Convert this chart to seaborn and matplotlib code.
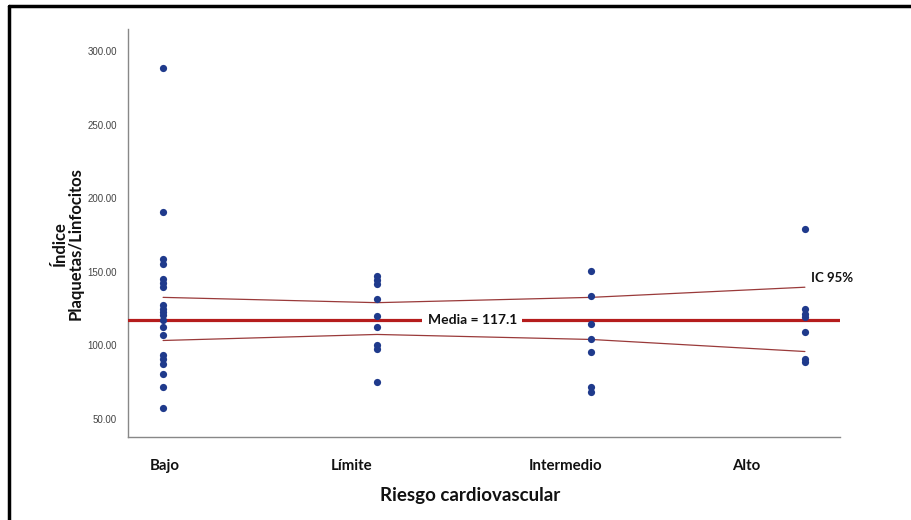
import matplotlib
matplotlib.use("Agg")
import matplotlib.pyplot as plt
import seaborn as sns
import pandas as pd
from matplotlib.lines import Line2D

categories = ["Bajo", "Límite", "Intermedio", "Alto"]
bajo = [288.4, 190.5, 158.6, 155.0, 145.1, 142.7, 139.7, 127.2, 124.9, 122.6, 120.4, 117.5,
        112.8, 106.7, 93.7, 90.8, 87.4, 80.5, 71.4, 57.7]
limite = [147.0, 144.7, 142.0, 131.8, 119.7, 112.8, 100.1, 97.6, 74.8]
intermedio = [150.6, 133.8, 114.2, 104.6, 95.3, 71.9, 68.0]
alto = [178.9, 124.9, 121.5, 119.2, 109.4, 90.8, 88.5]
mean_value = 117.1
ci_upper = [132.6, 129.0, 132.6, 139.5]
ci_lower = [103.3, 107.4, 104.0, 95.8]
yticks = [50, 100, 150, 200, 250, 300]

rows = []
for cat, vals in zip(categories, [bajo, limite, intermedio, alto]):
    for v in vals:
        rows.append({"Riesgo": cat, "IPL": v})
df = pd.DataFrame(rows)

sns.set_theme(style="white")
plt.rcParams["font.family"] = ["Lato", "DejaVu Sans"]

fig = plt.figure(figsize=(9.12, 5.2), dpi=100)
ax = fig.add_axes([128/912, 1-437/520, (840-128)/912, (437-29)/520])

sns.stripplot(data=df, x="Riesgo", y="IPL", order=categories, jitter=False,
              color="#1F3A8C", size=5.2, linewidth=0, ax=ax, zorder=4)

ax.axhline(mean_value, color="#B51C1C", lw=2.3, zorder=3)
ax.plot(range(len(categories)), ci_upper, color="#9A3A3A", lw=0.9, zorder=2)
ax.plot(range(len(categories)), ci_lower, color="#9A3A3A", lw=0.9, zorder=2)

ax.text(1.445, mean_value, f"Media = {mean_value}", ha="center", va="center",
        fontsize=10, fontweight="bold", color="#111111", zorder=5,
        bbox=dict(facecolor="white", edgecolor="none", pad=4))
ax.text(3.03, 141.5, "IC 95%", ha="left", va="bottom", fontsize=9.5,
        fontweight="bold", color="#111111")

ax.set_xlim(-0.164, 3.164)
ax.set_ylim(37.7, 315)
ax.set_yticks(yticks)
ax.set_yticklabels([f"{t:.2f}" for t in yticks], fontsize=7, color="#444444",
                   family=["Liberation Sans", "DejaVu Sans"])
# category labels as placed in the original (offset from the point columns)
ax.set_xticks([0.01, 0.883, 1.879, 2.724])
ax.set_xticklabels(categories, fontsize=10.8, fontweight="bold", color="#111111")
ax.tick_params(axis="x", pad=16, length=0)
ax.tick_params(axis="y", length=0, pad=8)

ax.set_xlabel("Riesgo cardiovascular", fontsize=13.5, fontweight="bold", color="#111111")
ax.xaxis.set_label_coords((470-128)/712, -(495-437)/408)
ax.xaxis.label.set_va("center")
ax.set_ylabel("Índice\nPlaquetas/Linfocitos", fontsize=12, fontweight="bold",
              color="#111111", linespacing=1.0)
ax.yaxis.set_label_coords(-(128-68)/712, (437-244)/408)
ax.yaxis.label.set_va("center")

for s in ["top", "right"]:
    ax.spines[s].set_visible(False)
for s in ["left", "bottom"]:
    ax.spines[s].set_color("#888888")
    ax.spines[s].set_linewidth(1.0)
ax.set_facecolor("white")

fig.lines.append(Line2D([9/912, 9/912], [0, 1-6/520], transform=fig.transFigure,
                        color="black", lw=2.5))
fig.lines.append(Line2D([9/912, 1], [1-6/520, 1-6/520], transform=fig.transFigure,
                        color="black", lw=2.5))

fig.savefig("out.png", dpi=100, facecolor="white")
